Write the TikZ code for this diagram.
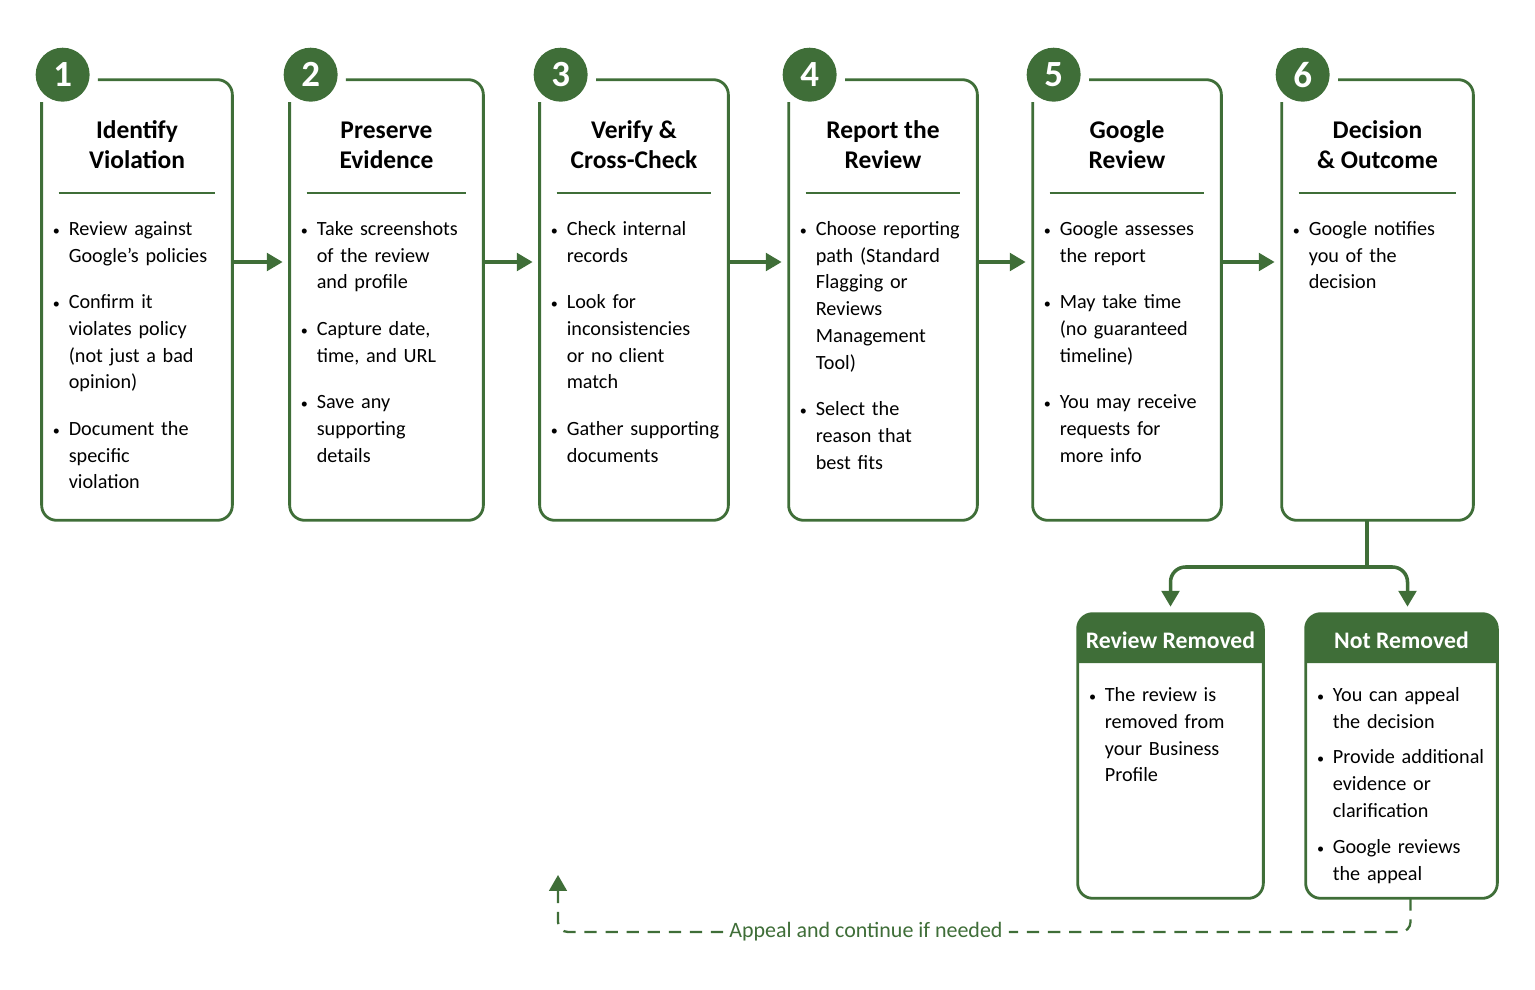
\documentclass[tikz,border=0pt]{standalone}
\usepackage{fontspec}
\setmainfont{Carlito}
\usetikzlibrary{calc,positioning,arrows.meta}
\definecolor{mgreen}{HTML}{3F6E38}
\tikzstyle{frame}=[draw=none, inner sep=0pt]
\tikzstyle{edge}=[draw=mgreen, line width=1.6pt, rounded corners=0.3cm]
\tikzstyle{num}=[circle, fill=mgreen, minimum size=1.08cm, inner sep=0pt, text=white, font=\fontsize{21}{21}\selectfont\bfseries]
\tikzstyle{head}=[align=center, font=\fontsize{14.5}{17}\selectfont\bfseries]
\tikzstyle{txt}=[anchor=north west, inner sep=0pt, text width=3.5cm, font=\fontsize{11.5}{15.3}\selectfont]
\tikzstyle{arr}=[mgreen, line width=2pt, -{Triangle[length=9pt,width=10pt]}]
\tikzstyle{dsh}=[mgreen, line width=1.3pt, dash pattern=on 7pt off 5pt]
\newlength{\gap}\setlength{\gap}{11pt}
\newcommand{\bul}[1]{\begin{list}{\scalebox{0.7}{\textbullet}}{\leftmargin=9pt\labelwidth=6pt\labelsep=5pt\itemsep=\gap\parsep=0pt\topsep=0pt\partopsep=0pt}#1\end{list}}
% one step: name, centre x, width, number, title, items
\newcommand{\stepbox}[6]{%
  \node[frame, minimum width=#3*0.02cm, minimum height=8.8cm] (b#1) at (#2,300) {};
  \node[num] (n#1) at ($(b#1.north west)+(21,-5)$) {#4};
  \draw[edge] ([xshift=0.16cm]n#1.east |- b#1.north) -- (b#1.north east) -- (b#1.south east)
    -- (b#1.south west) -- (b#1.west |- n#1.south);
  \node[head] (t#1) at (#2,145) {#5};
  \draw[mgreen, line width=1.2pt] ($(b#1.west |- 0,193)+(17,0)$) -- ($(b#1.east |- 0,193)+(-17,0)$);
  \node[txt] (l#1) at ($(b#1.west |- 0,208)+(11,0)$) {\bul{#6}};
}
\begin{document}
\begin{tikzpicture}[x=0.02cm, y=-0.02cm]
    \useasboundingbox (0,0) rectangle (1535,990);
    \stepbox{1}{137}{190}{1}{Identify\\Violation}{\item Review against\\Google’s policies
      \item Confirm it\\violates policy\\(not just a bad\\opinion) \item Document the\\specific\\violation}
    \stepbox{2}{386.5}{193}{2}{Preserve\\Evidence}{\item Take screenshots\\of the review\\and profile
      \item Capture date,\\time, and URL \item Save any\\supporting\\details}
    \stepbox{3}{634}{188}{3}{Verify \&\\Cross-Check}{\item Check internal\\records
      \item Look for\\inconsistencies\\or no client\\match \item Gather supporting\\documents}
    \stepbox{4}{883}{188}{4}{Report the\\Review}{\item Choose reporting\\path (Standard\\Flagging or\\Reviews\\Management\\Tool)
      \item Select the\\reason that\\best fits}
    \stepbox{5}{1127}{188}{5}{Google\\Review}{\item Google assesses\\the report
      \item May take time\\(no guaranteed\\timeline) \item You may receive\\requests for\\more info}
    \stepbox{6}{1377.5}{191}{6}{Decision\\\& Outcome}{\item Google notifies\\you of the\\decision}

    \foreach \a/\b in {1/2,2/3,3/4,4/5,5/6}
      \draw[arr] ([yshift=0.76cm]b\a.east) -- ([yshift=0.76cm,xshift=-0.14cm]b\b.west);

    % outcomes
    \node[frame, minimum width=3.7cm, minimum height=5.68cm] (rr) at (1170.5,756) {};
    \node[frame, minimum width=3.82cm, minimum height=5.68cm] (nr) at (1401.5,756) {};
    \foreach \o/\h in {rr/Review Removed, nr/Not Removed} {
      \fill[mgreen, rounded corners=0.3cm] (\o.west |- 0,663) -- (\o.north west) -- (\o.north east) [sharp corners] -- (\o.east |- 0,663) -- cycle;
      \draw[edge] (\o.north west) rectangle (\o.south east);
      \node[text=white, font=\fontsize{13.5}{16}\selectfont\bfseries] at (\o.center |- 0,640) {\h};
    }
    \setlength{\gap}{5pt}
    \node[txt, text width=3.3cm] (lr) at ($(rr.west |- 0,674)+(11,0)$) {\bul{\item The review is\\removed from\\your Business\\Profile}};
    \node[txt, text width=4cm] (ln) at ($(nr.west |- 0,674)+(11,0)$) {\bul{\item You can appeal\\the decision
      \item Provide additional\\evidence or\\clarification \item Google reviews\\the appeal}};

    \coordinate (fork) at (1367,567);
    \draw[mgreen, line width=2pt] (b6.south -| fork) -- (fork);
    \draw[arr, rounded corners=0.3cm] (fork) -| ([yshift=0.14cm]rr.north);
    \draw[arr, rounded corners=0.3cm] (fork) -| ([yshift=0.14cm, xshift=0.12cm]nr.north);

    % appeal loop
    \node[text=mgreen, fill=white, font=\fontsize{12.5}{14}\selectfont] (ap) at (866,932) {Appeal and continue if needed};
    \coordinate (back) at (558,885);
    \draw[dsh, rounded corners=0.2cm] ([xshift=0.18cm]nr.south) |- (ap.east);
    \draw[dsh, rounded corners=0.2cm] (ap.west) -| (back);
    \draw[arr, line width=1.3pt] ([yshift=0.1cm]back) -- ++(0,-5);
\end{tikzpicture}
\end{document}
